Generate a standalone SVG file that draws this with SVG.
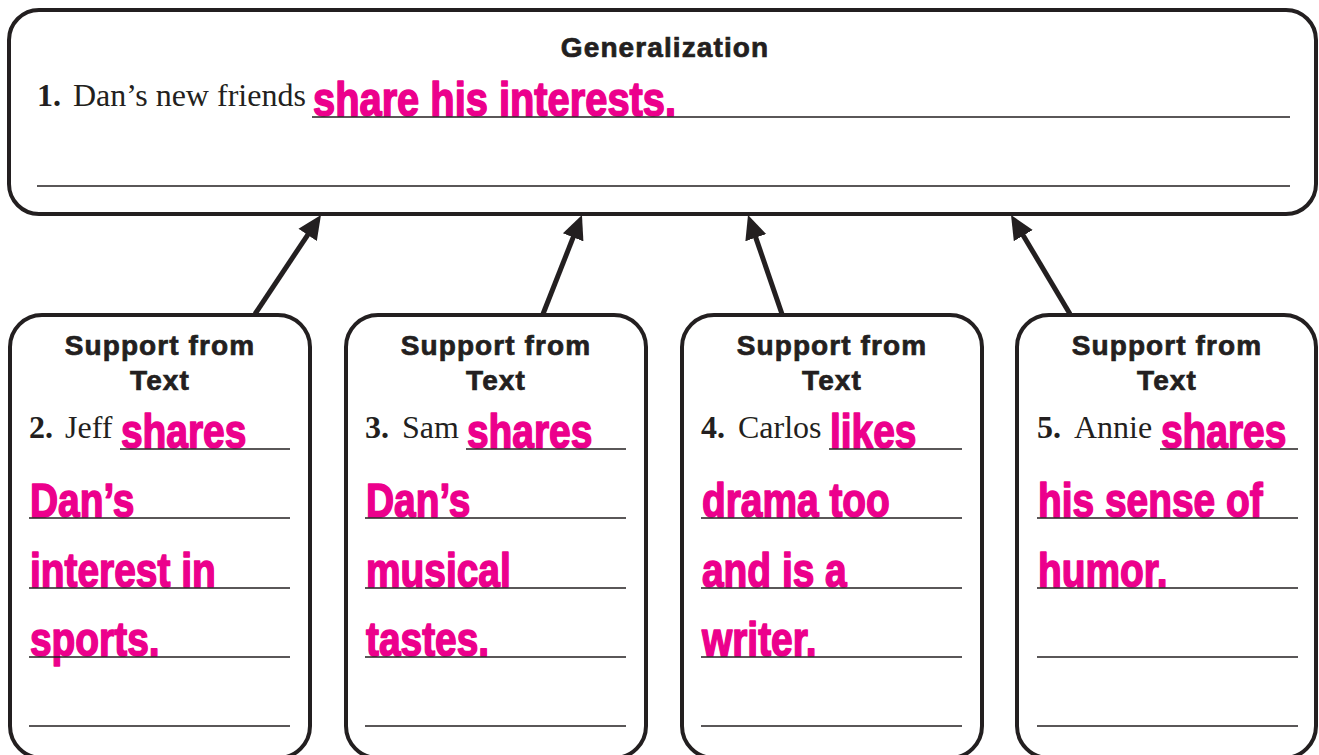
<svg xmlns="http://www.w3.org/2000/svg" width="1319" height="755" viewBox="0 0 1319 755">
<style>
.box{fill:#fff;stroke:#231f20;stroke-width:4}
.rule{stroke:#231f20;stroke-width:1.6}
.head{font-family:"Liberation Sans",Arial,sans-serif;font-weight:bold;font-size:28px;letter-spacing:1.1px;fill:#231f20;stroke:#231f20;stroke-width:0.7;text-anchor:middle}
.num{font-family:"Liberation Serif",serif;font-weight:bold;font-size:32px;fill:#231f20}
.ser{font-family:"Liberation Serif",serif;font-size:32px;fill:#231f20}
.pink{font-family:"Liberation Sans",Arial,sans-serif;font-weight:bold;font-size:48px;fill:#ec008c;stroke:#ec008c;stroke-width:1.6;stroke-linejoin:round}
.arrow{stroke:#231f20;stroke-width:5;fill:none;marker-end:url(#ah)}
</style>
<defs>
<marker id="ah" viewBox="0 0 24 24" markerWidth="24" markerHeight="24" markerUnits="userSpaceOnUse" refX="8" refY="12" orient="auto">
<path d="M0,1 L24,12 L0,23 z" fill="#231f20"/>
</marker>
</defs>
<rect width="1319" height="755" fill="#fff"/>

<g id="connectors">
<line class="arrow" x1="255" y1="314" x2="312.1" y2="228.3"/>
<line class="arrow" x1="543" y1="314" x2="576.1" y2="229.9"/>
<line class="arrow" x1="782" y1="314" x2="753.2" y2="230.1"/>
<line class="arrow" x1="1070" y1="314" x2="1019.2" y2="228.7"/>
</g>

<g id="generalization">
<rect class="box" x="9" y="10" width="1307" height="204" rx="30"/>
<text class="head" x="665" y="57">Generalization</text>
<text class="num" x="37" y="106">1.</text>
<text class="ser" x="73" y="106">Dan’s new friends</text>
<text class="pink" transform="translate(313,116) scale(0.83,1)">share his interests.</text>
<line class="rule" x1="312" y1="117" x2="1290" y2="117"/>
<line class="rule" x1="37" y1="186" x2="1290" y2="186"/>
</g>

<g id="support2">
<rect class="box" x="10" y="315" width="300" height="443" rx="32"/>
<text class="head" x="160" y="355">Support from</text>
<text class="head" x="160" y="390">Text</text>
<text class="num" x="29" y="438">2.</text>
<text class="ser" x="65" y="438">Jeff</text>
<text class="pink" transform="translate(121,448) scale(0.81,1)">shares</text>
<text class="pink" transform="translate(30,517) scale(0.81,1)">Dan’s</text>
<text class="pink" transform="translate(30,587) scale(0.81,1)">interest in</text>
<text class="pink" transform="translate(30,656) scale(0.81,1)">sports.</text>
<line class="rule" x1="120" y1="449" x2="290" y2="449"/>
<line class="rule" x1="29" y1="518" x2="290" y2="518"/>
<line class="rule" x1="29" y1="588" x2="290" y2="588"/>
<line class="rule" x1="29" y1="657" x2="290" y2="657"/>
<line class="rule" x1="29" y1="726" x2="290" y2="726"/>
</g>

<g id="support3">
<rect class="box" x="346" y="315" width="300" height="443" rx="32"/>
<text class="head" x="496" y="355">Support from</text>
<text class="head" x="496" y="390">Text</text>
<text class="num" x="365" y="438">3.</text>
<text class="ser" x="402" y="438">Sam</text>
<text class="pink" transform="translate(467,448) scale(0.81,1)">shares</text>
<text class="pink" transform="translate(366,517) scale(0.81,1)">Dan’s</text>
<text class="pink" transform="translate(366,587) scale(0.81,1)">musical</text>
<text class="pink" transform="translate(366,656) scale(0.81,1)">tastes.</text>
<line class="rule" x1="466" y1="449" x2="626" y2="449"/>
<line class="rule" x1="365" y1="518" x2="626" y2="518"/>
<line class="rule" x1="365" y1="588" x2="626" y2="588"/>
<line class="rule" x1="365" y1="657" x2="626" y2="657"/>
<line class="rule" x1="365" y1="726" x2="626" y2="726"/>
</g>

<g id="support4">
<rect class="box" x="682" y="315" width="300" height="443" rx="32"/>
<text class="head" x="832" y="355">Support from</text>
<text class="head" x="832" y="390">Text</text>
<text class="num" x="701" y="438">4.</text>
<text class="ser" x="738" y="438">Carlos</text>
<text class="pink" transform="translate(830,448) scale(0.81,1)">likes</text>
<text class="pink" transform="translate(702,517) scale(0.81,1)">drama too</text>
<text class="pink" transform="translate(702,587) scale(0.81,1)">and is a</text>
<text class="pink" transform="translate(702,656) scale(0.81,1)">writer.</text>
<line class="rule" x1="829" y1="449" x2="962" y2="449"/>
<line class="rule" x1="701" y1="518" x2="962" y2="518"/>
<line class="rule" x1="701" y1="588" x2="962" y2="588"/>
<line class="rule" x1="701" y1="657" x2="962" y2="657"/>
<line class="rule" x1="701" y1="726" x2="962" y2="726"/>
</g>

<g id="support5">
<rect class="box" x="1017" y="315" width="299" height="443" rx="32"/>
<text class="head" x="1167" y="355">Support from</text>
<text class="head" x="1167" y="390">Text</text>
<text class="num" x="1037" y="438">5.</text>
<text class="ser" x="1074" y="438">Annie</text>
<text class="pink" transform="translate(1161,448) scale(0.81,1)">shares</text>
<text class="pink" transform="translate(1038,517) scale(0.81,1)">his sense of</text>
<text class="pink" transform="translate(1038,587) scale(0.81,1)">humor.</text>
<line class="rule" x1="1160" y1="449" x2="1298" y2="449"/>
<line class="rule" x1="1037" y1="518" x2="1298" y2="518"/>
<line class="rule" x1="1037" y1="588" x2="1298" y2="588"/>
<line class="rule" x1="1037" y1="657" x2="1298" y2="657"/>
<line class="rule" x1="1037" y1="726" x2="1298" y2="726"/>
</g>
</svg>
